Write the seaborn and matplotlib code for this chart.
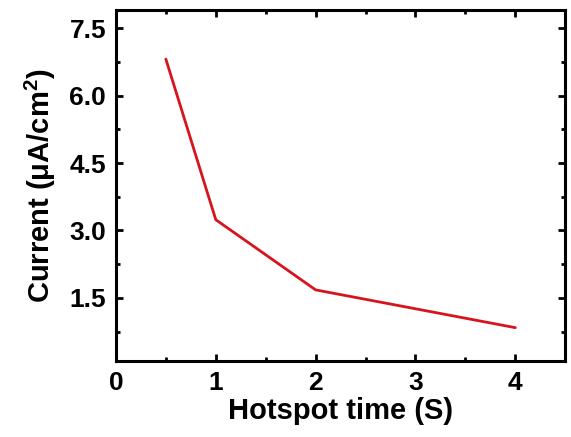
import matplotlib
matplotlib.use("Agg")
import matplotlib.pyplot as plt
import seaborn as sns
import pandas as pd

# dados
hotspot_time = [0.5, 1, 2, 4]
current = [6.81, 3.24, 1.68, 0.84]

df = pd.DataFrame({"tempo": hotspot_time, "corrente": current})

sns.set_style("ticks")
plt.rcParams["font.family"] = ["Liberation Sans", "DejaVu Sans"]
plt.rcParams["font.weight"] = "bold"
plt.rcParams["text.color"] = "black"
plt.rcParams["axes.labelcolor"] = "black"
plt.rcParams["xtick.color"] = "black"
plt.rcParams["ytick.color"] = "black"
plt.rcParams["mathtext.fontset"] = "custom"
plt.rcParams["mathtext.rm"] = "Liberation Sans:bold"
plt.rcParams["mathtext.default"] = "rm"

fig = plt.figure(figsize=(5.71, 4.37), dpi=100)
ax = fig.add_axes([0.203, 0.174, 0.787, 0.803])

sns.lineplot(data=df, x="tempo", y="corrente", color="#d7141c", linewidth=2, ax=ax)

ax.set_xlim(0, 4.5)
ax.set_ylim(0.1, 7.9)
ax.set_xticks([0, 1, 2, 3, 4])
ax.set_xticks([0.5, 1.5, 2.5, 3.5, 4.5], minor=True)
ax.set_yticks([1.5, 3.0, 4.5, 6.0, 7.5])
ax.set_yticks([0.75, 2.25, 3.75, 5.25, 6.75], minor=True)
ax.set_yticklabels(["1.5", "3.0", "4.5", "6.0", "7.5"])

ax.set_xlabel("Hotspot time (S)", fontsize=21, fontweight="bold", labelpad=2)
ax.set_ylabel(r"Current (μA/cm$^2$)", fontsize=21, fontweight="bold", labelpad=8)

for s in ax.spines.values():
    s.set_linewidth(2.2)
    s.set_color("black")

ax.tick_params(which="both", direction="in", top=True, right=True, width=2, labelsize=19, pad=7)
ax.tick_params(which="major", length=5)
ax.tick_params(which="minor", length=3)
for lab in ax.get_xticklabels() + ax.get_yticklabels():
    lab.set_fontweight("bold")

fig.savefig("out.png", dpi=100)
